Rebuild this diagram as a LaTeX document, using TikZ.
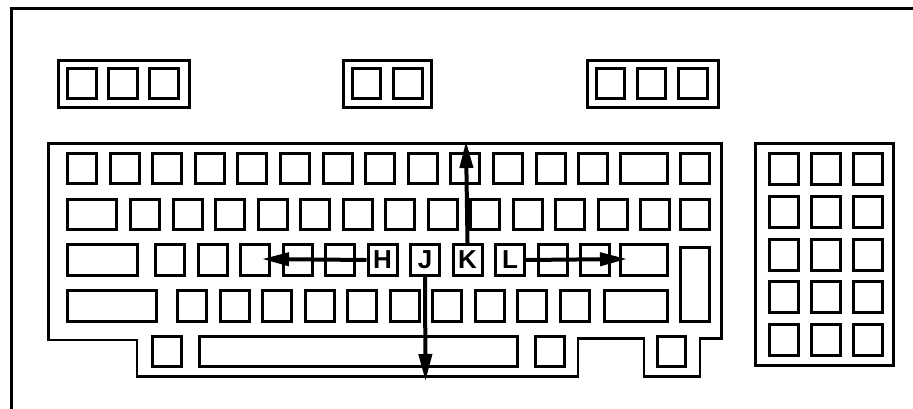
\documentclass[tikz,border=0pt]{standalone}
\usepackage{fontspec}
\setmainfont{Liberation Sans}
\usetikzlibrary{arrows.meta}
\newcommand\kbkey[6][]{\node[keybox,minimum width={#5*1pt-3pt},minimum height={#6*1pt-3pt},#1] (#2) at ({#3+#5/2},{#4+#6/2}) {};}
\newcommand\kbcase[5]{\node[casebox,minimum width={#4*1pt-2.7pt},minimum height={#5*1pt-2.7pt}] (#1) at ({#2+#4/2},{#3+#5/2}) {};}
\newcommand\kbletter[4]{\node[keybox,minimum width=29pt,minimum height=31pt,lettr] (#1) at ({#2+16},{#3+17}) {\raisebox{-3pt}{#4}};}
\begin{document}
\begin{tikzpicture}[x=1pt,y=-1pt,
  keybox/.style={draw, line width=3pt, inner sep=0pt, rectangle},
  casebox/.style={draw, line width=2.7pt, inner sep=0pt, rectangle},
  mover/.style={line width=4pt, -{Triangle[length=27pt,width=13pt]}},
  lettr/.style={font=\fontsize{26}{26}\selectfont\bfseries}]
\useasboundingbox (0,0) rectangle (913,409);
% outer frame
\draw[line width=3.3pt] (11.5,409) -- (11.5,8.5) -- (913,8.5);
% top groups
\kbcase{g1}{57}{59}{134}{50}
\kbcase{g2}{342}{59}{91}{50}
\kbcase{g3}{586}{59}{134}{50}
\kbkey{t1}{66}{67}{32}{33}
\kbkey{t2}{107}{67}{32}{33}
\kbkey{t3}{148}{67}{32}{33}
\kbkey{t4}{351}{67}{31}{33}
\kbkey{t5}{392}{67}{32}{33}
\kbkey{t6}{595}{67}{31}{33}
\kbkey{t7}{636}{67}{31}{33}
\kbkey{t8}{677}{67}{32}{33}
% keyboard case
\draw[line width=2.7pt] (48.3,143.3) -- (721.7,143.3) -- (721.7,338.5) -- (700,338.5) -- (700,376.7)
  -- (644,376.7) -- (644,338.5) -- (578,338.5) -- (578,376.7) -- (137,376.7) -- (137,340) -- (48.3,340) -- cycle;
% row 1
\foreach \i in {0,...,12} {\kbkey{a\i}{66+42.6*\i}{152}{32}{33}}
\kbkey{a13}{619}{152}{50}{33}
\kbkey{a14}{679}{152}{32}{33}
% row 2
\kbkey{b0}{66}{198}{52}{33}
\foreach \i in {1,...,13} {\kbkey{b\i}{129+42.5*(\i-1)}{198}{32}{33}}
\kbkey{b14}{679}{198}{32}{33}
% row 3
\kbkey{c0}{66}{243}{73}{34}
\foreach \i in {1,...,5} {\kbkey{c\i}{154+42.5*(\i-1)}{243}{32}{34}}
\kbletter{H}{366.5}{243}{H}
\kbletter{J}{409}{243}{J}
\kbletter{K}{451.5}{243}{K}
\kbletter{L}{494}{243}{L}
\kbkey{c10}{536.5}{243}{32}{34}
\kbkey{c11}{579}{243}{32}{34}
\kbkey{c12}{619}{243}{50}{34}
\kbkey{enter}{679}{246}{32}{77}
% row 4
\kbkey{d0}{66}{289}{92}{34}
\foreach \i in {1,...,10} {\kbkey{d\i}{176+42.5*(\i-1)}{289}{32}{34}}
\kbkey{d11}{603}{289}{66}{34}
% row 5
\kbkey{e0}{151}{335}{32}{33}
\kbkey{space}{198}{335}{321}{33}
\kbkey{e2}{534}{335}{32}{33}
\kbkey{e3}{656}{335}{31}{33}
% numeric pad
\kbcase{pad}{754}{142}{141}{225}
\foreach \r in {0,...,4} {\foreach \c in {0,...,2} {\kbkey{n\r\c}{768+42*\c}{152+42.75*\r}{32}{34}}}
% arrows
\coordinate (lefttip) at (262,259);
\coordinate (righttip) at (627,259);
\coordinate (uptip) at (466,141);
\coordinate (downtip) at (425.5,381);
\draw[mover] (H.west) -- (lefttip);
\draw[mover] (L.east) -- (righttip);
\draw[mover] (K.north) -- (uptip);
\draw[mover] (J.south) -- (downtip);
\end{tikzpicture}
\end{document}
